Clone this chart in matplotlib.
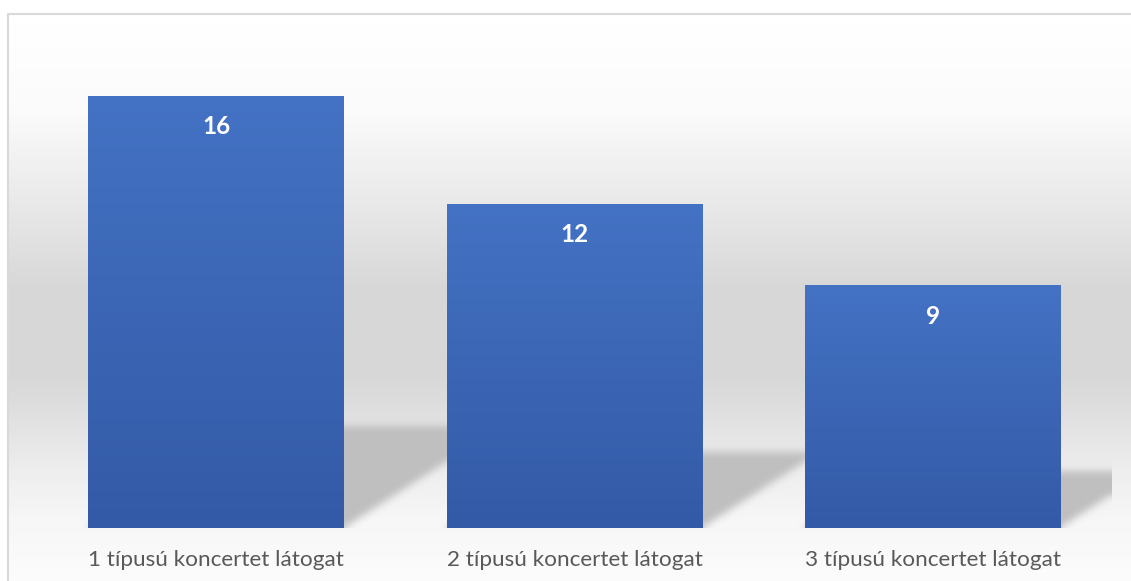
import numpy as np
import matplotlib
matplotlib.use("Agg")
import matplotlib.pyplot as plt

plt.rcParams['font.family'] = ['Lato', 'DejaVu Sans']

categories = ["1 típusú koncertet látogat", "2 típusú koncertet látogat",
              "3 típusú koncertet látogat"]
values = [16, 12, 9]

W, H = 1131, 581
fig = plt.figure(figsize=(W / 100, H / 100), dpi=100)
fig.patch.set_facecolor("white")

# chart area background (vertical gray gradient) and border
bg = fig.add_axes([0, 0, 1, 1])
bg.set_xlim(0, W)
bg.set_ylim(H, 0)
bg.axis("off")
stops_y = [13, 100, 200, 280, 370, 420, 470, 520, 581]
stops_c = [255, 251, 232, 216, 215, 226, 238, 247, 252]
yy = np.arange(H + 1)
col = np.interp(yy, stops_y, stops_c) / 255.0
grad = np.repeat(col[:, None], 2, axis=1)
bg.imshow(np.dstack([grad, grad, grad]), extent=[7.5, W + 5, H, 13.5],
          aspect="auto", interpolation="bilinear", zorder=0)
bg.plot([7.5, 7.5, W + 5], [H + 5, 13.5, 13.5], color="#d9d9d9", lw=1.5, zorder=1)
bg.set_xlim(0, W)
bg.set_ylim(H, 0)

ax = fig.add_axes([37 / W, (H - 528) / H, 1075 / W, 486 / H])
ax.patch.set_alpha(0)
x = np.arange(len(categories))
bw = 0.714
bars = ax.bar(x, values, width=bw, color="none", zorder=3)

# perspective shadow behind bars
nx, ny = 1075, 486
xs = np.linspace(-0.5, 2.5, nx)
ys = np.linspace(0, 18, ny)
X, Y = np.meshgrid(xs, ys)
k = 1.55 * (ny / 18) / (nx / 3)
mask = np.zeros_like(X)
for b, v in zip(bars, values):
    x0 = b.get_x()
    m = (Y <= 0.235 * v) & (X >= x0 + k * Y) & (X <= x0 + b.get_width() + k * Y)
    mask[m] = 1.0


def box_blur(a, r, axis):
    pad = [(0, 0), (0, 0)]
    pad[axis] = (r + 1, r)
    p = np.pad(a, pad, mode="edge")
    c = np.cumsum(p, axis=axis)
    n = a.shape[axis]
    hi = np.take(c, np.arange(2 * r + 1, 2 * r + 1 + n), axis=axis)
    lo = np.take(c, np.arange(0, n), axis=axis)
    return (hi - lo) / (2 * r + 1)


for _ in range(2):
    mask = box_blur(mask, 4, 0)
    mask = box_blur(mask, 4, 1)
shadow = np.zeros((ny, nx, 4))
shadow[..., :3] = 0.75
shadow[..., 3] = np.clip(mask, 0, 1)
ax.imshow(shadow, extent=[-0.5, 2.5, 0, 18], origin="lower", aspect="auto",
          interpolation="bilinear", zorder=2)

# gradient fill inside each bar
top = np.array([0x44, 0x72, 0xc4]) / 255.0
bot = np.array([0x33, 0x5a, 0xa6]) / 255.0
t = np.linspace(0, 1, 256)[:, None]
bar_grad = (bot[None, :] * (1 - t) + top[None, :] * t)[:, None, :]
for b in bars:
    ax.imshow(bar_grad, extent=[b.get_x(), b.get_x() + b.get_width(), 0, b.get_height()],
              origin="lower", aspect="auto", interpolation="bilinear", zorder=3)

for xi, v in zip(x, values):
    ax.annotate(str(v), (xi, v), xytext=(0, -31), textcoords="offset pixels",
                ha="center", va="center", color="white", fontsize=17.5,
                fontweight="bold", zorder=5)

ax.set_xlim(-0.5, 2.5)
ax.set_ylim(0, 18)
ax.set_xticks(x, categories)
ax.tick_params(axis="x", length=0, pad=15.5, labelsize=16.2, labelcolor="#595959")
ax.set_yticks([])
for s in ax.spines.values():
    s.set_visible(False)

fig.savefig("out.png", dpi=100)
